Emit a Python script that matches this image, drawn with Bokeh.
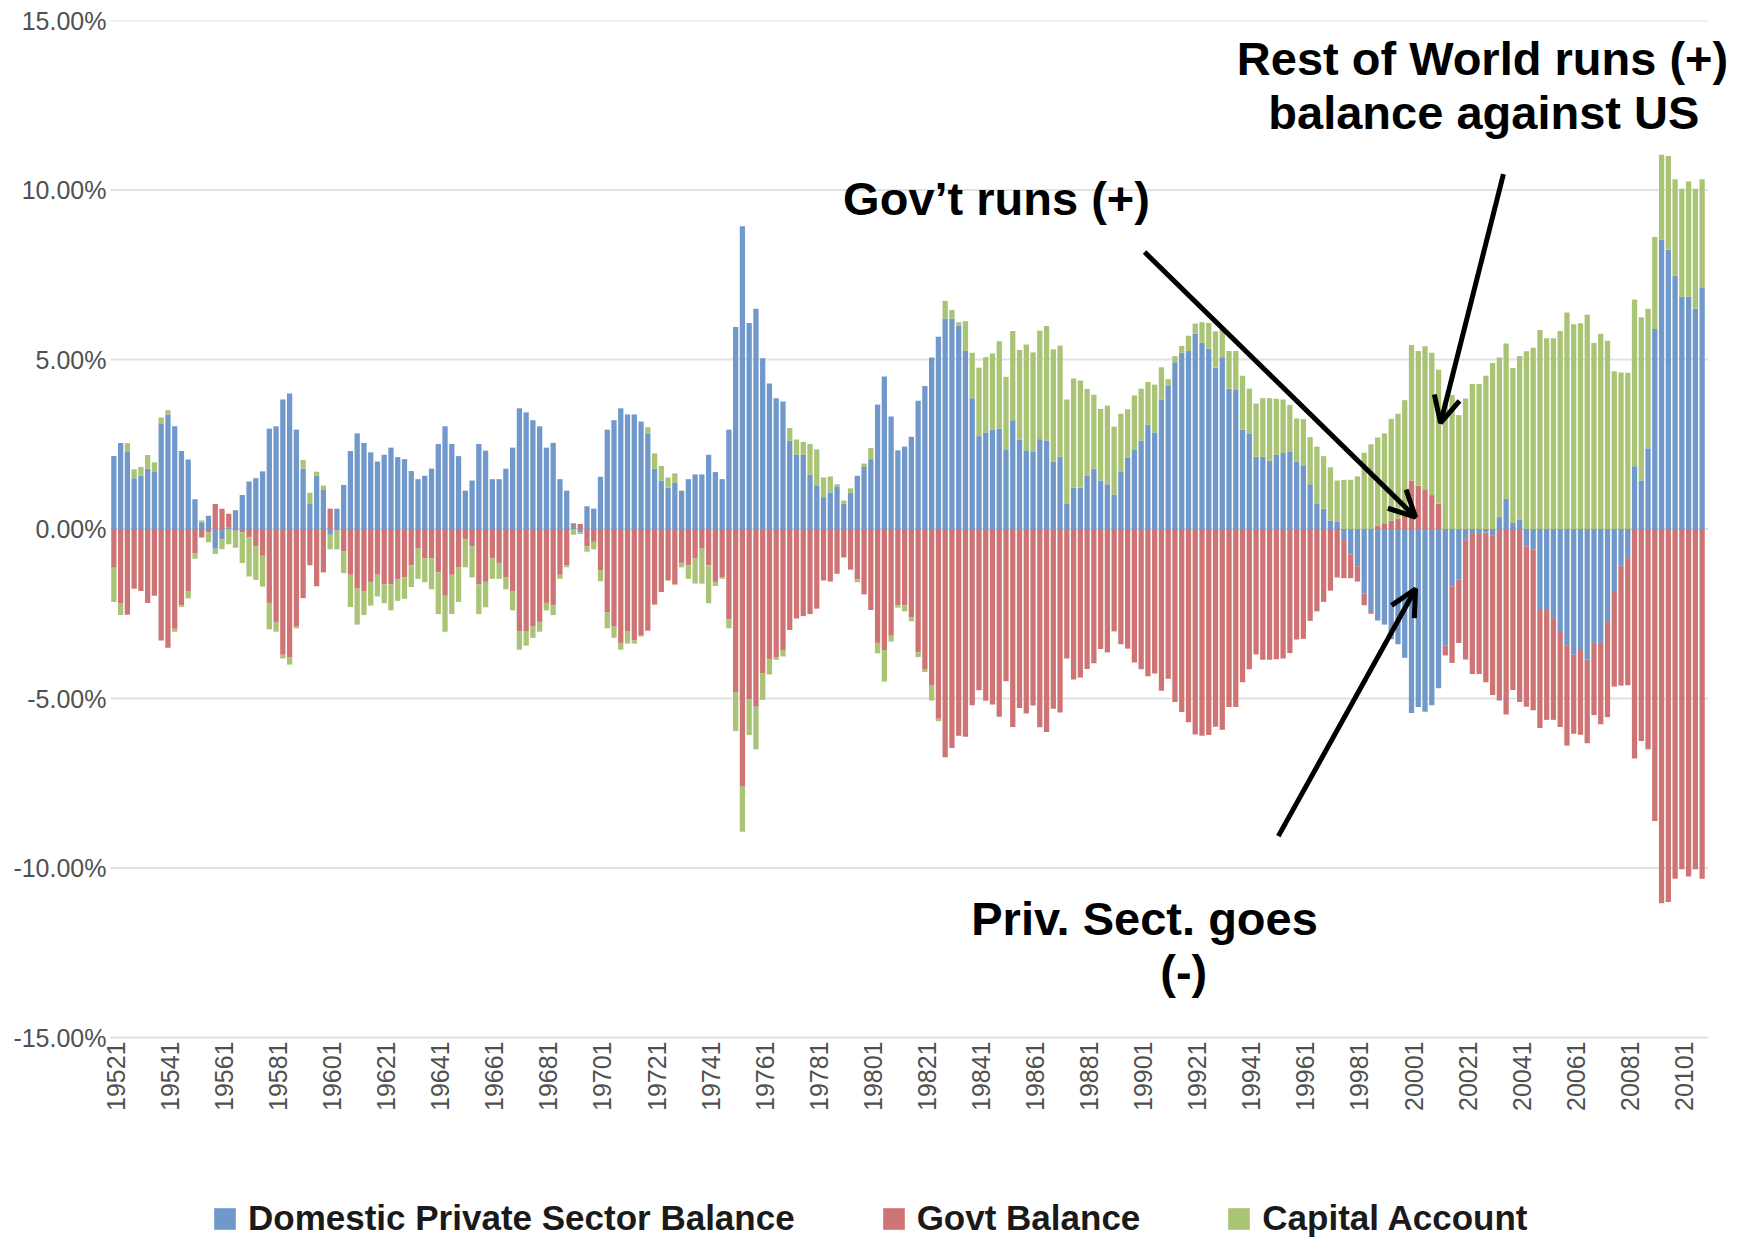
import math
from bokeh.plotting import figure
from bokeh.models import (ColumnDataSource, FixedTicker, PrintfTickFormatter, Legend,
                          LegendItem, Label, Arrow, OpenHead, Range1d)
from bokeh.core.properties import value
from bokeh.embed import file_html
from bokeh.resources import INLINE

# ---------------- data (percent of GDP, quarterly 1952Q1 .. 2010Q4) ----------------
quarters = [f"{y}{q}" for y in range(1952, 2011) for q in range(1, 5)]

tick_labels = ["19521", "19541", "19561", "19581", "19601", "19621", "19641", "19661",
               "19681", "19701", "19721", "19741", "19761", "19781", "19801", "19821",
               "19841", "19861", "19881", "19901", "19921", "19941", "19961", "19981",
               "20001", "20021", "20041", "20061", "20081", "20101"]

y_ticks = [-15, -10, -5, 0, 5, 10, 15]

private = [
    2.15, 2.54, 2.27, 1.50, 1.57, 1.78, 1.70, 3.10,
    3.38, 3.03, 2.30, 2.05, 0.88, 0.20, 0.39, -0.58,
    -0.30, 0.05, 0.55, 1.00, 1.40, 1.50, 1.70, 2.96,
    3.03, 3.82, 4.00, 2.93, 1.78, 0.74, 1.57, 1.15,
    -0.17, 0.60, 1.30, 2.30, 2.82, 2.54, 2.26, 1.99,
    2.19, 2.40, 2.12, 2.06, 1.71, 1.47, 1.57, 1.78,
    2.51, 3.03, 2.51, 2.15, 1.13, 1.43, 2.51, 2.31,
    1.47, 1.47, 1.78, 2.40, 3.56, 3.44, 3.21, 3.03,
    2.40, 2.54, 1.47, 1.13, 0.12, -0.10, 0.67, 0.60,
    1.54, 2.93, 3.21, 3.56, 3.38, 3.38, 3.17, 2.82,
    1.78, 1.43, 1.22, 1.36, 1.13, 1.47, 1.61, 1.61,
    2.19, 1.68, 1.47, 2.93, 5.96, 8.93, 6.08, 6.50,
    5.04, 4.29, 3.86, 3.76, 2.60, 2.19, 2.19, 1.61,
    1.29, 0.94, 1.08, 1.26, 0.74, 1.06, 1.57, 1.83,
    2.06, 3.67, 4.50, 3.32, 2.32, 2.43, 2.72, 3.78,
    4.22, 5.06, 5.67, 6.21, 6.21, 6.00, 5.25, 3.86,
    2.74, 2.85, 2.93, 2.96, 2.33, 3.21, 2.63, 2.32,
    2.29, 2.65, 2.61, 1.99, 2.13, 0.74, 1.22, 1.22,
    1.57, 1.78, 1.43, 1.32, 1.01, 1.68, 2.10, 2.33,
    2.61, 3.08, 2.85, 3.82, 4.22, 4.92, 5.20, 5.25,
    5.76, 5.49, 5.32, 4.76, 5.07, 4.14, 4.10, 2.93,
    2.82, 2.13, 2.13, 2.01, 2.19, 2.24, 2.29, 1.99,
    1.88, 1.32, 0.74, 0.60, 0.25, 0.21, -0.30, -0.75,
    -1.10, -1.90, -2.45, -2.70, -2.82, -3.25, -3.40, -3.80,
    -5.43, -5.25, -5.39, -5.20, -4.70, -3.43, -1.69, -1.49,
    -0.30, -0.15, -0.15, -0.10, -0.20, 0.35, 0.90, 0.18,
    0.28, -0.51, -0.60, -2.39, -2.39, -2.60, -3.01, -3.43,
    -3.71, -3.57, -3.85, -3.36, -3.36, -2.74, -1.83, -1.07,
    -0.86, 1.85, 1.43, 2.38, 5.90, 8.54, 8.24, 7.47,
    6.85, 6.85, 6.50, 7.13,
]

govt = [
    -1.14, -2.18, -2.53, -1.76, -1.83, -2.18, -1.97, -3.29,
    -3.50, -2.94, -2.25, -1.83, -0.72, -0.25, -0.10, 0.74,
    0.60, 0.40, -0.05, -0.10, -0.25, -0.51, -0.79, -2.18,
    -2.74, -3.71, -3.78, -2.88, -2.04, -1.07, -1.69, -1.28,
    0.60, -0.05, -0.65, -1.35, -1.76, -1.83, -1.56, -1.35,
    -1.63, -1.63, -1.49, -1.42, -1.07, -0.58, -0.86, -0.86,
    -1.28, -1.97, -1.35, -1.14, -0.31, -0.51, -1.63, -1.56,
    -0.86, -1.00, -1.42, -1.83, -3.01, -3.01, -2.88, -2.74,
    -2.18, -2.25, -1.35, -1.07, 0.05, 0.15, -0.51, -0.38,
    -1.21, -2.46, -2.88, -3.36, -3.01, -3.29, -3.15, -3.00,
    -2.23, -1.86, -1.52, -1.64, -1.00, -1.07, -0.86, -0.58,
    -1.07, -1.56, -1.42, -2.67, -4.82, -7.60, -5.03, -5.24,
    -4.26, -3.85, -3.78, -3.57, -2.98, -2.64, -2.57, -2.51,
    -2.35, -1.52, -1.55, -1.32, -0.84, -1.20, -1.49, -1.93,
    -2.39, -3.36, -3.57, -3.15, -2.25, -2.25, -2.60, -3.64,
    -4.13, -4.60, -5.60, -6.73, -6.46, -6.10, -6.13, -5.20,
    -4.76, -5.07, -5.18, -5.54, -4.49, -5.84, -5.28, -5.44,
    -5.21, -5.85, -5.99, -5.30, -5.41, -3.82, -4.44, -4.38,
    -4.13, -3.96, -3.54, -3.64, -3.02, -3.40, -3.53, -3.94,
    -4.14, -4.34, -4.26, -4.77, -4.42, -5.10, -5.40, -5.70,
    -6.06, -6.10, -6.08, -5.83, -5.92, -5.25, -5.25, -4.52,
    -4.14, -3.70, -3.86, -3.86, -3.84, -3.82, -3.66, -3.26,
    -3.24, -2.71, -2.43, -2.15, -1.82, -1.43, -1.15, -0.70,
    -0.45, -0.35, -0.05, 0.10, 0.17, 0.25, 0.30, 0.40,
    1.43, 1.28, 1.15, 1.00, 0.75, -0.30, -2.26, -1.87,
    -3.55, -4.13, -4.13, -4.42, -4.70, -5.06, -5.47, -4.75,
    -5.10, -4.73, -4.75, -3.48, -3.24, -3.03, -2.83, -2.96,
    -2.33, -2.50, -2.47, -2.13, -2.40, -2.81, -2.82, -3.55,
    -3.75, -6.77, -6.25, -6.50, -8.61, -11.04, -11.00, -10.32,
    -10.04, -10.25, -10.04, -10.32,
]

capital = [
    -1.01, -0.36, 0.26, 0.26, 0.26, 0.40, 0.27, 0.19,
    0.12, -0.09, -0.05, -0.22, -0.16, 0.05, -0.29, -0.16,
    -0.30, -0.45, -0.50, -0.90, -1.15, -0.99, -0.91, -0.78,
    -0.29, -0.11, -0.22, -0.05, 0.26, 0.33, 0.12, 0.13,
    -0.43, -0.55, -0.65, -0.95, -1.06, -0.71, -0.70, -0.64,
    -0.56, -0.77, -0.63, -0.64, -0.64, -0.89, -0.71, -0.92,
    -1.23, -1.06, -1.16, -1.01, -0.82, -0.92, -0.88, -0.75,
    -0.61, -0.47, -0.36, -0.57, -0.55, -0.43, -0.33, -0.29,
    -0.22, -0.29, -0.12, -0.06, -0.17, -0.05, -0.16, -0.22,
    -0.33, -0.47, -0.33, -0.20, -0.37, -0.09, -0.02, 0.18,
    0.45, 0.43, 0.30, 0.28, -0.13, -0.40, -0.75, -1.03,
    -1.12, -0.12, -0.05, -0.26, -1.14, -1.33, -1.05, -1.26,
    -0.78, -0.44, -0.08, -0.19, 0.38, 0.45, 0.38, 0.90,
    1.06, 0.58, 0.47, 0.06, 0.10, 0.14, -0.08, 0.10,
    0.33, -0.31, -0.93, -0.17, -0.07, -0.18, -0.12, -0.14,
    -0.09, -0.46, -0.07, 0.52, 0.25, 0.10, 0.88, 1.34,
    2.02, 2.22, 2.25, 2.58, 2.16, 2.63, 2.65, 3.12,
    2.92, 3.20, 3.38, 3.31, 3.28, 3.08, 3.22, 3.16,
    2.56, 2.18, 2.11, 2.32, 2.01, 1.72, 1.43, 1.61,
    1.53, 1.26, 1.41, 0.95, 0.20, 0.18, 0.20, 0.45,
    0.30, 0.61, 0.76, 1.07, 0.85, 1.11, 1.15, 1.59,
    1.32, 1.57, 1.73, 1.85, 1.65, 1.58, 1.37, 1.27,
    1.36, 1.39, 1.69, 1.55, 1.57, 1.22, 1.45, 1.45,
    1.55, 2.25, 2.50, 2.60, 2.65, 3.00, 3.10, 3.40,
    4.00, 3.97, 4.24, 4.20, 3.95, 3.73, 3.95, 3.36,
    3.85, 4.28, 4.28, 4.52, 4.90, 4.71, 4.57, 4.57,
    4.82, 5.24, 5.35, 5.87, 5.63, 5.63, 5.84, 6.39,
    6.04, 6.07, 6.32, 5.49, 5.76, 5.55, 4.65, 4.62,
    4.61, 4.92, 4.82, 4.12, 2.71, 2.50, 2.76, 2.85,
    3.19, 3.40, 3.54, 3.19,
]

series_names = ["Domestic Private Sector Balance", "Govt Balance", "Capital Account"]
series_colors = ["#7098ca", "#cf7474", "#a9c474"]

# ---------------- stacking (Excel style: positives up, negatives down) ----------------
xs = list(range(len(quarters)))
pos_base = [0.0] * len(xs)
neg_base = [0.0] * len(xs)
sources = []
for vals in (private, govt, capital):
    bottoms, tops = [], []
    for i, v in enumerate(vals):
        if v >= 0:
            bottoms.append(pos_base[i]); tops.append(pos_base[i] + v); pos_base[i] += v
        else:
            bottoms.append(neg_base[i]); tops.append(neg_base[i] + v); neg_base[i] += v
    sources.append(ColumnDataSource(dict(x=xs, bottom=bottoms, top=tops, q=quarters)))

# ---------------- layout geometry (pixels) ----------------
W, H = 1745, 1238
FRAME_L, FRAME_T = 106, 20          # left edge of frame, y of the 15% line
BARS_L, BARS_R = 110, 1705          # extent of the category area
AXIS_Y = 1037                        # y of the -15% line
px_per_cat = (BARS_R - BARS_L) / len(xs)
px_per_pct = (AXIS_Y - FRAME_T) / 30.0
x_start = -0.5 - (BARS_L - FRAME_L) / px_per_cat
x_end = -0.5 + (W - BARS_L) / px_per_cat
y_start = -15 - (H - AXIS_Y) / px_per_pct

p = figure(width=W, height=H, output_backend="svg", toolbar_location=None,
           x_range=Range1d(x_start, x_end), y_range=Range1d(y_start, 15),
           min_border_left=FRAME_L, min_border_right=0, min_border_top=FRAME_T,
           min_border_bottom=0)
p.outline_line_color = None
p.background_fill_color = "white"
p.border_fill_color = "white"
p.xgrid.grid_line_color = None
p.ygrid.grid_line_color = None
p.xaxis.visible = False

# horizontal gridlines limited to the category area
p.segment(x0=[-0.5] * len(y_ticks), x1=[len(xs) - 0.1] * len(y_ticks), y0=y_ticks, y1=y_ticks,
          line_color="#e2e2e2", line_width=2)

renderers = []
for src, col in zip(sources, series_colors):
    r = p.vbar(x="x", bottom="bottom", top="top", width=0.78, source=src,
               fill_color=col, line_color=None)
    renderers.append(r)

# category tick labels (vertical, reading upward), just under the -15% line
tick_pos = [quarters.index(t) for t in tick_labels]
p.text(x=tick_pos, y=[-15 - 4 / px_per_pct] * len(tick_pos), text=tick_labels,
       angle=math.pi / 2, text_align="right", text_baseline="middle", x_offset=2,
       text_font=value("Liberation Sans"), text_font_size="25px", text_color="#505050")

# y axis
p.yaxis.ticker = FixedTicker(ticks=y_ticks)
p.yaxis.formatter = PrintfTickFormatter(format="%.2f%%")
p.yaxis.major_tick_line_color = None
p.yaxis.major_tick_out = 0
p.yaxis.major_tick_in = 0
p.yaxis.minor_tick_line_color = None
p.yaxis.axis_line_color = None
p.yaxis.major_label_standoff = 0
p.yaxis.major_label_text_font = "Liberation Sans"
p.yaxis.major_label_text_font_size = "25px"
p.yaxis.major_label_text_color = "#505050"

# legend along the bottom
legend = Legend(items=[LegendItem(label=n, renderers=[r]) for n, r in zip(series_names, renderers)],
                location=(105, 0), orientation="horizontal", padding=0, margin=0,
                spacing=85, label_standoff=10, glyph_width=27, glyph_height=27,
                label_text_font="Liberation Sans", label_text_font_style="bold",
                label_text_font_size="35px", label_text_color="#1a1a1a",
                background_fill_alpha=0, border_line_color=None)
p.add_layout(legend)

# annotations
ann_font = dict(text_font="Liberation Sans", text_font_style="bold",
                text_font_size="47px", text_color="black",
                text_align="center", text_baseline="alphabetic")
p.add_layout(Label(x=202.5, y=13.88, text="Rest of World runs (+)", **ann_font))
p.add_layout(Label(x=202.7, y=12.29, text="balance against US", **ann_font))
p.add_layout(Label(x=130.6, y=9.75, text="Gov\u2019t runs (+)", **ann_font))
p.add_layout(Label(x=152.5, y=-11.48, text="Priv. Sect. goes", **ann_font))
p.add_layout(Label(x=158.3, y=-13.05, text="(-)", **ann_font))

for xs0, ys0, xe, ye in [(152.5, 8.17, 192.6, 0.35),
                         (205.6, 10.47, 196.3, 3.13),
                         (172.3, -9.06, 192.6, -1.77)]:
    p.add_layout(Arrow(x_start=xs0, y_start=ys0, x_end=xe, y_end=ye,
                       line_width=5, line_color="black",
                       end=OpenHead(size=26, line_width=5, line_color="black")))

open("out.html", "w").write(file_html(p, INLINE))
